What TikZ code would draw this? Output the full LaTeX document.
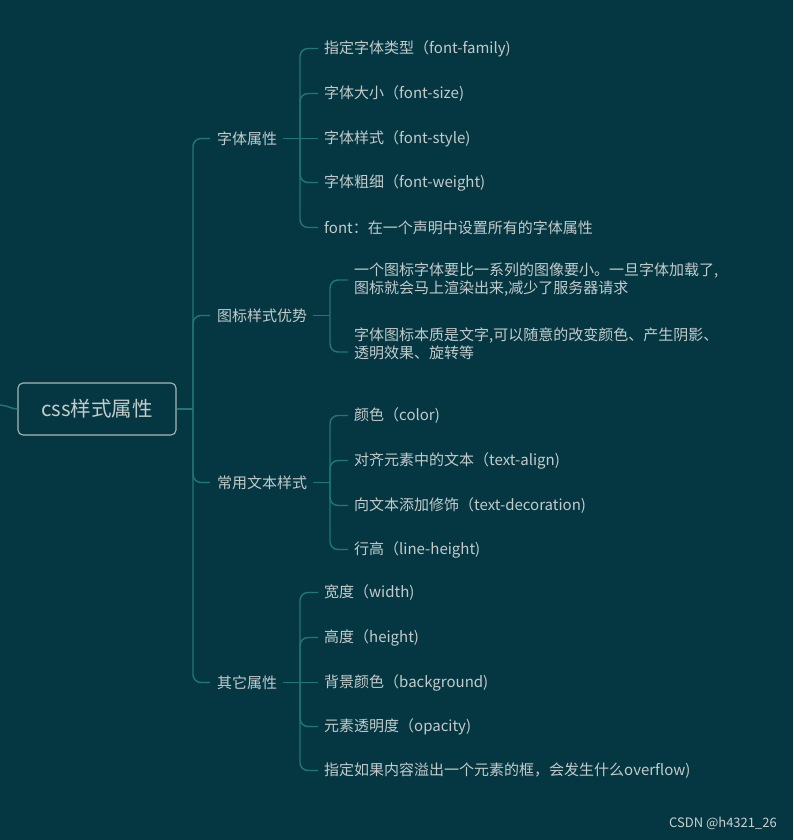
\documentclass[tikz,border=0pt]{standalone}
\usepackage{fontspec}
\setmainfont{Noto Sans CJK SC}
\definecolor{bgc}{HTML}{053742}
\definecolor{linec}{HTML}{1E7873}
\definecolor{txtc}{HTML}{C3CBCB}
\definecolor{boxc}{HTML}{A9B7B8}
\tikzset{
  conn/.style={draw=linec, line width=1.4pt, rounded corners=8pt},
  leaf/.style={anchor=west, inner sep=0pt, text=txtc, font=\fontsize{15}{18}\selectfont, align=left},
  mid/.style={anchor=west, inner sep=0pt, text=txtc, font=\fontsize{15}{18}\selectfont},
  rootbox/.style={draw=boxc, line width=1.1pt, rounded corners=5pt, text=txtc,
    minimum width=158pt, minimum height=52pt, inner sep=0pt, font=\fontsize{20.5}{24}\selectfont},
  wm/.style={anchor=east, inner sep=0pt, text=txtc!90!white, font=\fontsize{13}{15}\selectfont}
}
\begin{document}
\begin{tikzpicture}[x=1pt, y=-1pt]
\fill[bgc] (0,0) rectangle (793,840);
\useasboundingbox (0,0) rectangle (793,840);

% root
\node[rootbox] (root) at (97,409) {css样式属性};
\coordinate (L0) at (0,405);
\draw[conn, rounded corners=0pt] (L0) .. controls (9,406) and (12,409) .. (root.west);

% trunk
\coordinate (T) at (193,409);
\draw[conn] (root.east) -- (T);

% level 1
\node[mid] (A) at (217,138.5) {字体属性};
\node[mid] (B) at (217,315.5) {图标样式优势};
\node[mid] (C) at (217,482.5) {常用文本样式};
\node[mid] (D) at (217,682.5) {其它属性};

\foreach \n in {A,B,C,D}{
  \draw[conn] (T) -- (\n.west -| T) -- ([xshift=-7pt]\n.west);
}

% vertical positions
\coordinate (vA) at (300,0);
\coordinate (vB) at (330,0);
\coordinate (vC) at (330,0);
\coordinate (vD) at (300,0);

% children A
\node[leaf] (a1) at (324,48.5) {指定字体类型（font-family)};
\node[leaf] (a2) at (324,93.5) {字体大小（font-size)};
\node[leaf] (a3) at (324,138.5) {字体样式（font-style)};
\node[leaf] (a4) at (324,182.5) {字体粗细（font-weight)};
\node[leaf] (a5) at (324,227.5) {font：在一个声明中设置所有的字体属性};
\draw[conn] ([xshift=6pt]A.east) -- ([xshift=-6pt]a3.west);
\foreach \c in {a1,a2,a4,a5}{
  \draw[conn] (A.east -| vA) -- (\c.west -| vA) -- ([xshift=-6pt]\c.west);
}

% children B
\node[leaf] (b1) at (354,280) {一个图标字体要比一系列的图像要小。一旦字体加载了,\\图标就会马上渲染出来,减少了服务器请求};
\node[leaf] (b2) at (354,344) {字体图标本质是文字,可以随意的改变颜色、产生阴影、\\透明效果、旋转等};
\draw[conn] ([xshift=6pt]B.east) -- (B.east -| vB);
\draw[conn] (B.east -| vB) -- (b1.west -| vB) -- ([xshift=-6pt]b1.west);
\draw[conn] (B.east -| vB) -- ([yshift=-8pt]b2.west -| vB) -- ([xshift=-6pt,yshift=-8pt]b2.west);

% children C
\node[leaf] (c1) at (354,415.5) {颜色（color)};
\node[leaf] (c2) at (354,460.5) {对齐元素中的文本（text-align)};
\node[leaf] (c3) at (354,505.5) {向文本添加修饰（text-decoration)};
\node[leaf] (c4) at (354,549.5) {行高（line-height)};
\draw[conn] ([xshift=6pt]C.east) -- (C.east -| vC);
\foreach \c in {c1,c2,c3,c4}{
  \draw[conn] (C.east -| vC) -- (\c.west -| vC) -- ([xshift=-6pt]\c.west);
}

% children D
\node[leaf] (d1) at (324,592.5) {宽度（width)};
\node[leaf] (d2) at (324,637.5) {高度（height)};
\node[leaf] (d3) at (324,682.5) {背景颜色（background)};
\node[leaf] (d4) at (324,726.5) {元素透明度（opacity)};
\node[leaf] (d5) at (324,770.5) {指定如果内容溢出一个元素的框，会发生什么overflow)};
\draw[conn] ([xshift=6pt]D.east) -- ([xshift=-6pt]d3.west);
\foreach \c in {d1,d2,d4,d5}{
  \draw[conn] (D.east -| vD) -- (\c.west -| vD) -- ([xshift=-6pt]\c.west);
}

% watermark
\node[wm] (wmk) at (777,823.5) {CSDN @h4321\_26};
\end{tikzpicture}
\end{document}
